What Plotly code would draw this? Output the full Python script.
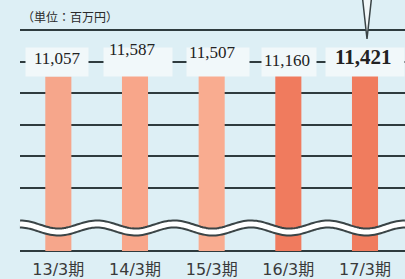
import numpy as np
import plotly.graph_objects as go

categories = ["13/3期", "14/3期", "15/3期", "16/3期", "17/3期"]
values = [11057, 11587, 11507, 11160, 11421]
bar_colors = ["#F6A68B", "#F8A68A", "#F9AC90", "#F07B5E", "#F07C5E"]
label_shift = [3, 12, 9, 1, 5]
label_sizes = [17, 17, 17, 17, 21]
grid_vals = [0, 4000, 6000, 8000, 10000, 12000, 14000]
unit_text = "（単位：百万円）"

W, H = 405, 279
ML, MR, MT, MB = 20, 0, 24, 25
PW, PH = W - ML - MR, H - MT - MB

def px(xp):
    return (xp - ML) / PW

def py(yp):
    return (H - MB - yp) / PH

fig = go.Figure()
fig.add_trace(go.Bar(
    x=categories, y=values, width=0.34,
    marker=dict(color=bar_colors, line=dict(width=0)),
    hoverinfo="skip",
))

annotations = []
for i, (c, v) in enumerate(zip(categories, values)):
    annotations.append(dict(
        x=c, y=12000, xref="x", yref="y", text=" ", showarrow=False,
        width=[60, 66, 60, 52, 76][i], height=26, bgcolor="#F1F8FA",
        xshift=[-1, 3, 6, 1, 0][i], font=dict(size=10),
    ))
for i, (c, v) in enumerate(zip(categories, values)):
    txt = f"{v:,}" if i < len(values) - 1 else f"<b>{v:,}</b>"
    annotations.append(dict(
        x=c, y=12000, xref="x", yref="y", text=txt, showarrow=False,
        yshift=label_shift[i], xshift=[-1, -3, 1, -1, -2][i],
        font=dict(family="Liberation Serif", size=label_sizes[i], color="#222222"),
    ))
annotations.append(dict(
    x=0, y=py(17), xref="paper", yref="paper", xanchor="left", yanchor="middle",
    text=unit_text, showarrow=False,
    font=dict(family="Noto Sans CJK JP", size=12, color="#2a2a2a"),
))

# wave break decoration
xs = np.linspace(ML, W, 200)
ys = 228 + 4 * np.cos(2 * np.pi * (xs - 58.5) / 77)
path = "M " + " L ".join(f"{px(a):.4f},{py(b):.4f}" for a, b in zip(xs, ys))
shapes = [
    dict(type="path", path=path, xref="paper", yref="paper",
         line=dict(color="#3a4446", width=9), layer="above"),
    dict(type="path", path=path, xref="paper", yref="paper",
         line=dict(color="#FFFFFF", width=5), layer="above"),
    dict(type="path",
         path=f"M {px(362.5):.4f},{py(-2):.4f} L {px(367):.4f},{py(39):.4f} L {px(371.5):.4f},{py(-2):.4f} Z",
         xref="paper", yref="paper", fillcolor="#F2F7F8",
         line=dict(color="#3a4446", width=1.5), layer="above"),
]

fig.update_layout(
    width=W, height=H,
    margin=dict(l=ML, r=MR, t=MT, b=MB, pad=0, autoexpand=False),
    paper_bgcolor="#DDEFF5", plot_bgcolor="#DDEFF5",
    showlegend=False,
    annotations=annotations,
    shapes=shapes,
    xaxis=dict(
        showgrid=False, zeroline=False, showline=False, ticks="",
        tickfont=dict(family="DejaVu Sans, Noto Sans CJK JP", size=16, color="#3a3a3a"),
        ticklabelstandoff=4, automargin=False,
    ),
    yaxis=dict(
        range=[-190, 14380], tickvals=grid_vals, showticklabels=False,
        showgrid=True, gridcolor="#2E3B3E", gridwidth=2,
        zeroline=False, showline=False, ticks="", automargin=False,
    ),
)

fig.write_html(
    "out.html",
    config={"displayModeBar": False, "staticPlot": True},
    post_script="document.body.style.margin='0';document.body.style.background='#DDEFF5';",
)
